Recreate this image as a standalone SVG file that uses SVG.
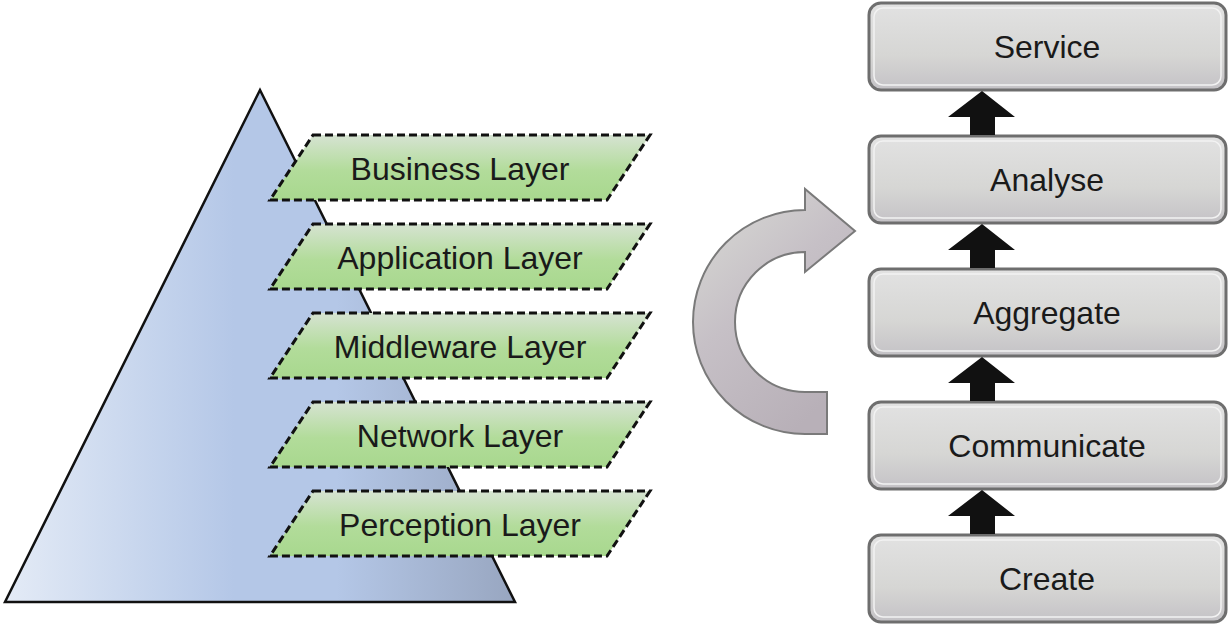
<svg xmlns="http://www.w3.org/2000/svg" width="1229" height="625" viewBox="0 0 1229 625">
<defs>
<linearGradient id="triGrad" x1="0" y1="0" x2="1" y2="0">
<stop offset="0" stop-color="#e4ebf6"/>
<stop offset="0.25" stop-color="#c9d7ee"/>
<stop offset="0.45" stop-color="#b4c7e7"/>
<stop offset="0.65" stop-color="#b4c7e7"/>
<stop offset="1" stop-color="#98a6c0"/>
</linearGradient>
<linearGradient id="greenGrad" x1="0" y1="0" x2="0" y2="1">
<stop offset="0" stop-color="#d6e3d2"/>
<stop offset="0.55" stop-color="#b2dc9a"/>
<stop offset="1" stop-color="#a8d88e"/>
</linearGradient>
<linearGradient id="boxGrad" x1="0" y1="0" x2="0" y2="1">
<stop offset="0" stop-color="#e2e2e2"/>
<stop offset="0.6" stop-color="#d6d6d4"/>
<stop offset="1" stop-color="#c4c2c6"/>
</linearGradient>
<linearGradient id="cGrad" x1="0" y1="0" x2="0.6" y2="1">
<stop offset="0" stop-color="#dadcd6"/>
<stop offset="0.5" stop-color="#c6c0c6"/>
<stop offset="1" stop-color="#b8b0b8"/>
</linearGradient>
<style>
.layer{fill:url(#greenGrad);stroke:#111;stroke-width:3;stroke-dasharray:8 4;}
.ltxt{font-family:"Liberation Sans",Arial,sans-serif;font-size:32px;fill:#1a1a1a;text-anchor:middle;}
.box{fill:url(#boxGrad);stroke:#6e6e6e;stroke-width:3;}
.boxin{fill:none;stroke:#f2f2f2;stroke-width:1.5;}
.btxt{font-family:"Liberation Sans",Arial,sans-serif;font-size:32px;fill:#1a1a1a;text-anchor:middle;}
.arr{fill:#111;}
</style>
</defs>
<rect width="1229" height="625" fill="#ffffff"/>

<g id="pyramid">
<polygon points="260,90 515,602 5,602" fill="url(#triGrad)" stroke="#111" stroke-width="2.5"/>
</g>

<g id="business-layer">
<polygon class="layer" points="313,135 650,135 607,200 270,200"/>
<text class="ltxt" x="460" y="180">Business Layer</text>
</g>
<g id="application-layer">
<polygon class="layer" points="313,224 650,224 607,289 270,289"/>
<text class="ltxt" x="460" y="269">Application Layer</text>
</g>
<g id="middleware-layer">
<polygon class="layer" points="313,313 650,313 607,378 270,378"/>
<text class="ltxt" x="460" y="358">Middleware Layer</text>
</g>
<g id="network-layer">
<polygon class="layer" points="313,402 650,402 607,467 270,467"/>
<text class="ltxt" x="460" y="447">Network Layer</text>
</g>
<g id="perception-layer">
<polygon class="layer" points="313,491 650,491 607,556 270,556"/>
<text class="ltxt" x="460" y="536">Perception Layer</text>
</g>

<g id="cycle-arrow">
<path d="M805,210 A112,112 0 0 0 805,434 L827,434 L827,392 L805,392 A70,70 0 0 1 805,252 L805,272 L855,231 L805,189 Z" fill="url(#cGrad)" stroke="#7a7a7a" stroke-width="2"/>
</g>

<g id="service">
<rect class="box" x="869" y="3" width="357" height="87" rx="12"/>
<rect class="boxin" x="874" y="8" width="347" height="77" rx="9"/>
<text class="btxt" x="1047" y="58">Service</text>
</g>
<g id="analyse">
<rect class="box" x="869" y="136" width="357" height="87" rx="12"/>
<rect class="boxin" x="874" y="141" width="347" height="77" rx="9"/>
<text class="btxt" x="1047" y="191">Analyse</text>
</g>
<g id="aggregate">
<rect class="box" x="869" y="269" width="357" height="87" rx="12"/>
<rect class="boxin" x="874" y="274" width="347" height="77" rx="9"/>
<text class="btxt" x="1047" y="324">Aggregate</text>
</g>
<g id="communicate">
<rect class="box" x="869" y="402" width="357" height="87" rx="12"/>
<rect class="boxin" x="874" y="407" width="347" height="77" rx="9"/>
<text class="btxt" x="1047" y="457">Communicate</text>
</g>
<g id="create">
<rect class="box" x="869" y="535" width="357" height="87" rx="12"/>
<rect class="boxin" x="874" y="540" width="347" height="77" rx="9"/>
<text class="btxt" x="1047" y="590">Create</text>
</g>

<g id="connectors">
<polygon class="arr" points="982,91 1015,117 995,117 995,135 970,135 970,117 948,117"/>
<polygon class="arr" points="982,224 1015,250 995,250 995,268 970,268 970,250 948,250"/>
<polygon class="arr" points="982,357 1015,383 995,383 995,401 970,401 970,383 948,383"/>
<polygon class="arr" points="982,490 1015,516 995,516 995,534 970,534 970,516 948,516"/>
</g>
</svg>
